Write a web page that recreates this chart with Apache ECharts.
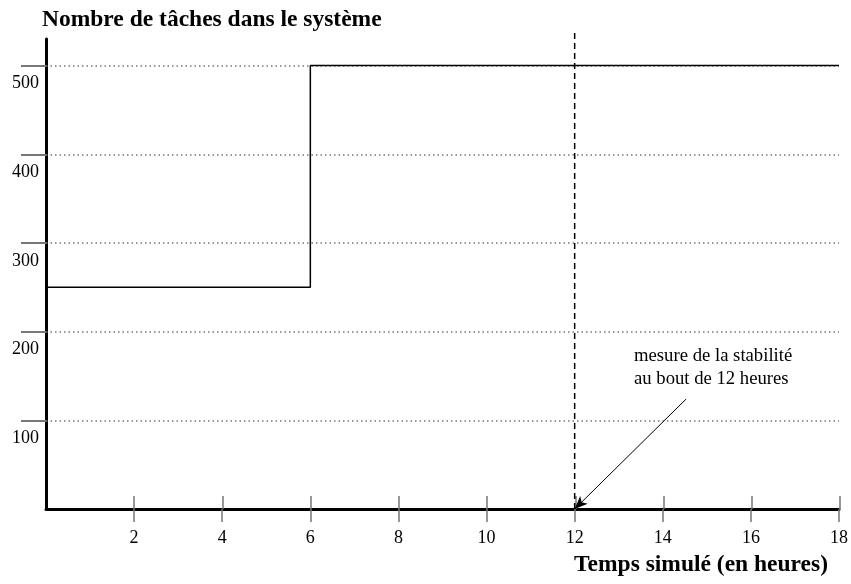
<!DOCTYPE html>
<html>
<head>
<meta charset="utf-8">
<script src="https://cdn.jsdelivr.net/npm/echarts@6/dist/echarts.min.js"></script>
<style>html,body{margin:0;padding:0;background:#fff}#c{width:851px;height:584px}</style>
</head>
<body>
<div id="c"></div>
<script>
// ---- data ----
const timeHours = [0, 6, 18];
const taskCounts = [250, 500, 500];
const xTickValues = [2, 4, 6, 8, 10, 12, 14, 16, 18];
const yTickValues = [100, 200, 300, 400, 500];
const measureHour = 12;
const measureLineY = [0, 541];
const yTitle = 'Nombre de tâches dans le système';
const xTitle = 'Temps simulé (en heures)';
const noteText = 'mesure de la stabilité\nau bout de 12 heures';
const arrowStart = [14.53, 124];
const arrowEnd = [12, 0];

const FONT = 'Liberation Serif';
const chart = echarts.init(document.getElementById('c'), null, {renderer: 'canvas'});
const gridBox = {left: 46, right: 11, top: 39, bottom: 75};

const option = {
  animation: false,
  backgroundColor: '#fff',
  title: [
    {text: yTitle, left: 42, top: 8, padding: 0,
     textStyle: {fontFamily: FONT, fontWeight: 'bold', fontSize: 23.5, color: '#000'}},
    {text: xTitle, right: 23, top: 553, padding: 0,
     textStyle: {fontFamily: FONT, fontWeight: 'bold', fontSize: 23.5, color: '#000'}}
  ],
  grid: [Object.assign({}, gridBox), Object.assign({}, gridBox)],
  xAxis: [
    {type: 'value', gridIndex: 0, min: 0, max: 18, interval: 2,
     axisLine: {show: true, lineStyle: {color: '#000', width: 3}},
     axisTick: {show: true, inside: false, length: 13, customValues: xTickValues,
                lineStyle: {color: '#777', width: 1.5}},
     axisLabel: {show: true, customValues: xTickValues, margin: 20,
                 fontFamily: FONT, fontSize: 18, color: '#000'},
     splitLine: {show: false}},
    {type: 'value', gridIndex: 1, min: 0, max: 18, interval: 2,
     axisLine: {show: false},
     axisTick: {show: true, inside: true, length: 13, customValues: xTickValues,
                lineStyle: {color: '#777', width: 1.5}},
     axisLabel: {show: false},
     splitLine: {show: false}}
  ],
  yAxis: [
    {type: 'value', gridIndex: 0, min: 0, max: 530, interval: 100,
     axisLine: {show: true, lineStyle: {color: '#000', width: 3}},
     axisTick: {show: true, inside: false, length: 25, customValues: yTickValues,
                lineStyle: {color: '#777', width: 2}},
     axisLabel: {show: true, customValues: yTickValues, margin: 7,
                 verticalAlign: 'top', padding: [9, 0, 0, 0], lineHeight: 18,
                 fontFamily: FONT, fontSize: 18, color: '#000'},
     splitLine: {show: false}},
    {type: 'value', gridIndex: 1, min: 0, max: 530, show: false}
  ],
  graphic: [
    {type: 'text', left: 634, top: 345, silent: true,
     style: {text: noteText, font: '18.7px "Liberation Serif"', fill: '#000', lineHeight: 23}}
  ],
  series: [
    {type: 'line', xAxisIndex: 0, yAxisIndex: 0, step: 'end', symbol: 'none', clip: false,
     data: timeHours.map((t, i) => [t, taskCounts[i]]),
     lineStyle: {color: '#000', width: 1.5},
     z: 5,
     markLine: {
       silent: true, symbol: 'none', label: {show: false},
       lineStyle: {color: '#777', width: 1.5, type: [1.5, 3]},
       data: yTickValues.map(v => ({yAxis: v}))
     }},
    {type: 'line', xAxisIndex: 0, yAxisIndex: 0, symbol: 'none', clip: false,
     data: measureLineY.map(v => [measureHour, v]),
     lineStyle: {color: '#000', width: 1.5, type: [6, 4]},
     z: 4,
     markLine: {
       silent: true, label: {show: false}, precision: 3,
       data: [
         [{coord: arrowStart, symbol: 'none', lineStyle: {color: '#000', width: 1, type: 'solid'}},
          {coord: arrowEnd, symbol: 'arrow', symbolSize: [8, 13]}]
       ]
     }}
  ]
};
chart.setOption(option);
</script>
</body>
</html>
